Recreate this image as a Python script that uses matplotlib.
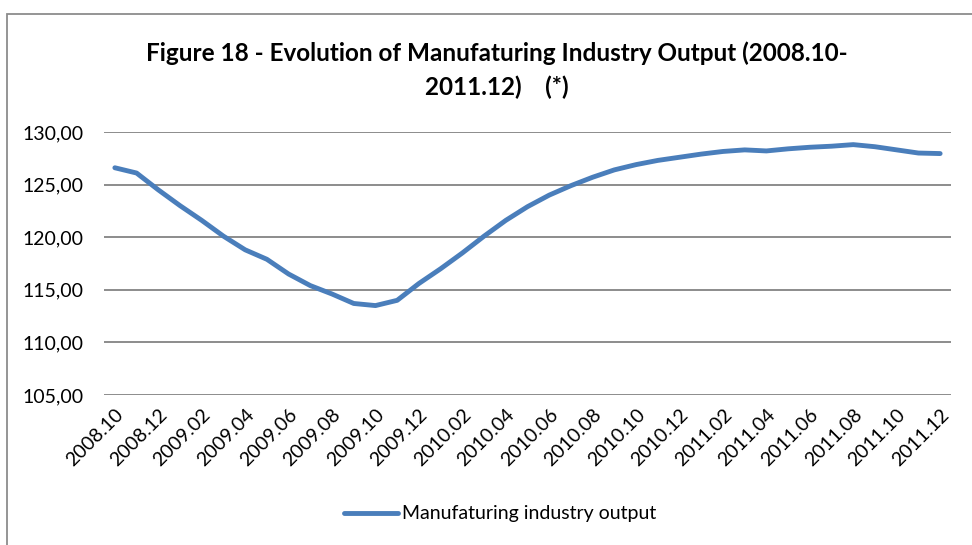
import numpy as np
import matplotlib.pyplot as plt
from matplotlib.patches import Rectangle

plt.rcParams['font.family'] = ['Lato', 'DejaVu Sans']

years = [2008]*3 + [2009]*12 + [2010]*12 + [2011]*12
months = [10, 11, 12] + list(range(1, 13))*3
labels = ['%d.%02d' % (y, m) for y, m in zip(years, months)]

output = [126.6, 126.1, 124.5, 123.0, 121.6, 120.1, 118.8, 117.9, 116.5, 115.4,
          114.6, 113.7, 113.5, 114.0, 115.6, 117.0, 118.5, 120.1, 121.6, 122.9,
          124.0, 124.9, 125.7, 126.4, 126.9, 127.3, 127.6, 127.9, 128.15, 128.3,
          128.2, 128.4, 128.55, 128.65, 128.8, 128.6, 128.3, 128.0, 127.95]

yticks = [105, 110, 115, 120, 125, 130]

fig = plt.figure(figsize=(9.72, 5.45), dpi=100)
W, H = 972.0, 545.0
ax = fig.add_axes([104/W, 1-395/H, (951-104)/W, (395-132)/H])

x = np.arange(len(output))
line, = ax.plot(x, output, color='#4a7ebb', lw=3.5, solid_capstyle='round',
                solid_joinstyle='round', label='Manufaturing industry output')

ax.set_xlim(-0.5, len(output)-0.5)
ax.set_ylim(105, 130)
ax.set_yticks(yticks)
ax.set_yticklabels(['%d,00' % v for v in yticks], fontsize=14)
ax.set_xticks(x[::2])
ax.set_xticklabels(labels[::2], rotation=45, ha='right', rotation_mode='anchor', fontsize=14)
ax.tick_params(length=0)
ax.tick_params(axis='x', pad=8)
ax.tick_params(axis='y', pad=15)
ax.grid(axis='y', color='#8c8c8c', lw=1.4)
ax.set_axisbelow(True)
for s in ax.spines.values():
    s.set_visible(False)

fig.text(497/W, 1-53/H, 'Figure 18 - Evolution of Manufaturing Industry Output (2008.10-',
         ha='center', va='center', fontsize=17.5, fontweight='bold')
fig.text(497/W, 1-87/H, '2011.12)    (*)', ha='center', va='center', fontsize=17.5, fontweight='bold')

fig.legend(handles=[line], loc='center', bbox_to_anchor=(500/W, 1-514/H), frameon=False,
           fontsize=14, handlelength=2.8, handletextpad=0.2)

fig.patches.append(Rectangle((7/W, -0.1), 1.1, 1-14/H+0.1, transform=fig.transFigure,
                             fill=False, ec='#8c8c8c', lw=1.3))

fig.savefig('out.png', dpi=100)
